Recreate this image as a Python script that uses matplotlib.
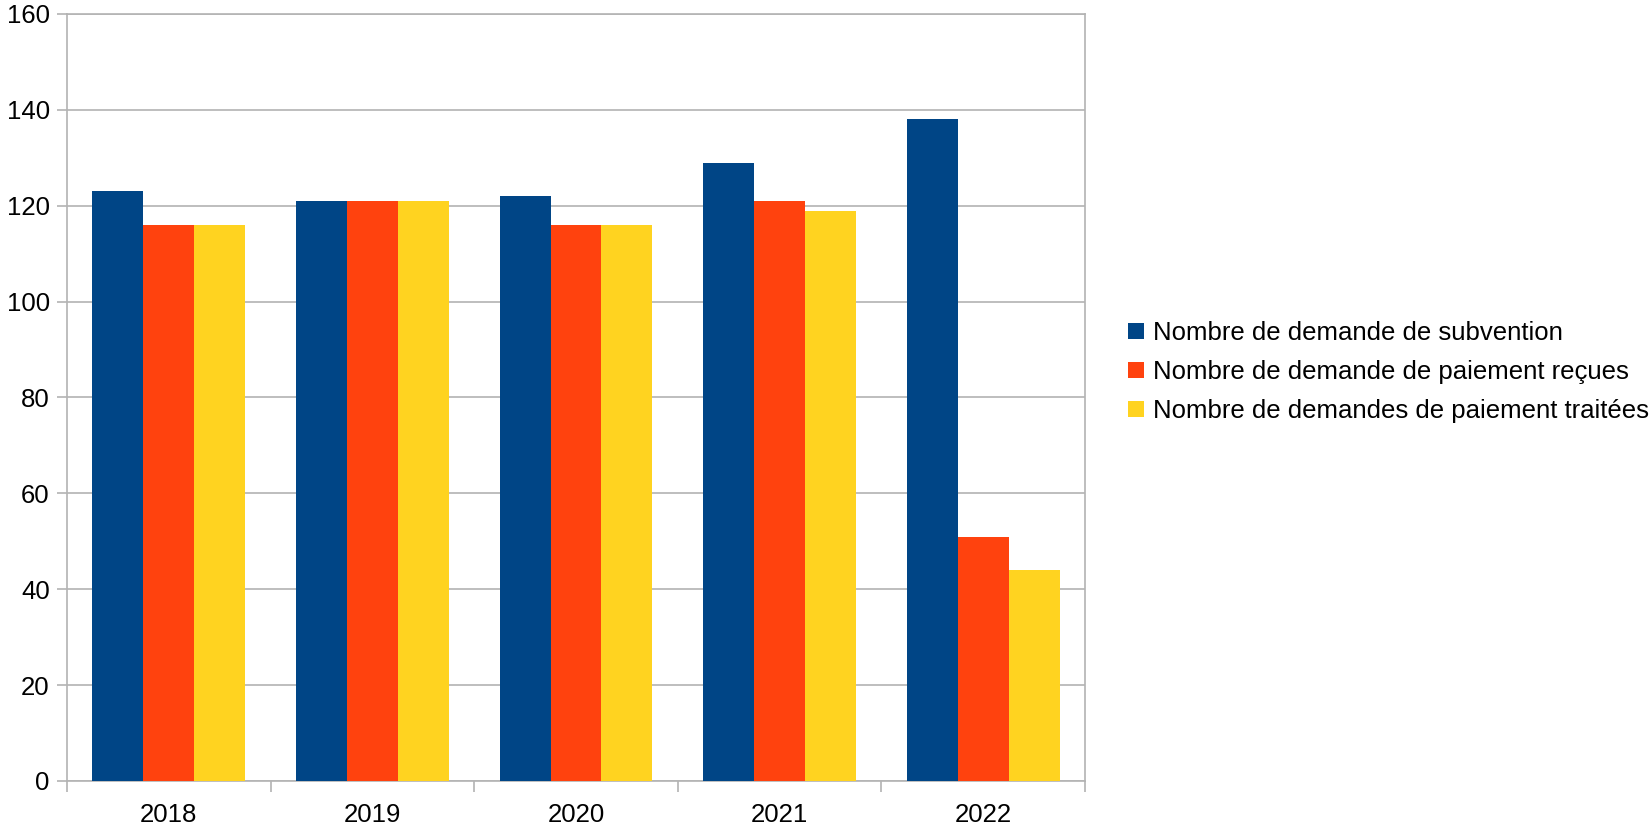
import matplotlib
matplotlib.use("Agg")
import matplotlib.pyplot as plt
import numpy as np
from matplotlib.patches import Patch

years = ["2018", "2019", "2020", "2021", "2022"]
series_names = ["Nombre de demande de subvention",
                "Nombre de demande de paiement reçues",
                "Nombre de demandes de paiement traitées"]
subvention = [123, 121, 122, 129, 138]
paiement_recues = [116, 121, 116, 121, 51]
paiement_traitees = [116, 121, 116, 119, 44]
colors = ["#004586", "#ff420e", "#ffd320"]

plt.rcParams['font.family'] = ['Liberation Sans', 'DejaVu Sans']

W, H = 1651, 834
fig = plt.figure(figsize=(W/100, H/100), dpi=100)
ax = fig.add_axes([67/W, 1-781/H, (1085-67)/W, (781-14)/H])

x = np.arange(len(years))
w = 0.25
for i, vals in enumerate([subvention, paiement_recues, paiement_traitees]):
    ax.bar(x + (i-1)*w, vals, width=w, color=colors[i], zorder=3)

ax.set_xlim(-0.5, len(years)-0.5)
ax.set_ylim(0, 160)
ax.set_yticks(range(0, 161, 20))
ax.set_xticks(x)
ax.set_xticklabels(years)
ax.set_xticks(np.arange(-0.5, len(years), 1), minor=True)
ax.tick_params(axis='x', which='major', length=0, pad=16, labelsize=18.5)
ax.tick_params(axis='x', which='minor', length=8, color='#b3b3b3', width=1.2)
ax.tick_params(axis='y', length=7.5, color='#b3b3b3', width=1.2, labelsize=18.5, pad=5)
ax.yaxis.grid(True, color='#b3b3b3', linewidth=1.2, zorder=0)
for s in ax.spines.values():
    s.set_color('#b3b3b3')
    s.set_linewidth(1.2)

handles = [Patch(facecolor=c) for c in colors]
fig.legend(handles, series_names, loc='center left', bbox_to_anchor=(1128/W, 1-372/H),
           frameon=False, fontsize=18.5, handlelength=0.62, handleheight=0.62,
           handletextpad=0.35, labelspacing=0.58, borderaxespad=0, borderpad=0)

fig.savefig("out.png", dpi=100)
